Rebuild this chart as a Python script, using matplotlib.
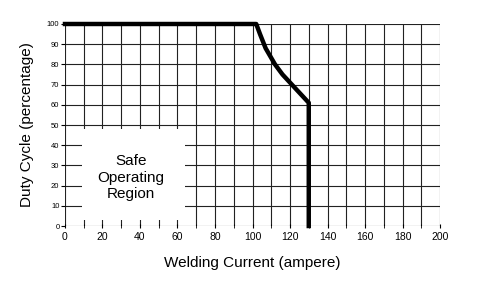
import matplotlib
matplotlib.use('Agg')
import matplotlib.pyplot as plt
from matplotlib.patches import Rectangle

# duty cycle curve
current = [0, 102, 104, 107, 112, 116, 121, 130, 130]
duty = [100, 100, 95, 88, 80, 75, 70, 61, 0]

x_ticks = list(range(0, 201, 20))
y_ticks = list(range(0, 101, 10))
x_grid = list(range(0, 201, 10))

plt.rcParams['font.family'] = ['Liberation Sans', 'DejaVu Sans']

fig = plt.figure(figsize=(4.8, 2.84), dpi=100)
ax = fig.add_axes([0.1354, 0.2042, 0.7813, 0.7113])

ax.set_xlim(0, 200)
ax.set_ylim(0, 100)

for x in x_grid:
    ax.axvline(x, color='#222222', lw=0.8, zorder=1)
for y in y_ticks:
    ax.axhline(y, color='#222222', lw=0.8, zorder=1)

# white box behind the label
ax.add_patch(Rectangle((9, 3), 55, 45, facecolor='white', edgecolor='none', zorder=2))
ax.text(35, 24, 'Safe\nOperating\nRegion', ha='center', va='center',
        fontsize=11, linespacing=1.2, zorder=3)

ax.plot(current, duty, color='black', lw=3.2, solid_joinstyle='round', zorder=4, clip_on=False)

for s in ax.spines.values():
    s.set_visible(False)

ax.set_xticks(x_ticks)
ax.set_yticks(y_ticks)
ax.tick_params(axis='x', labelsize=7.5, length=3, direction='inout', pad=3)
ax.tick_params(axis='y', labelsize=5.5, length=3, direction='out', pad=1)
ax.set_xticks(x_grid, minor=True)
ax.tick_params(axis='x', which='minor', length=3, direction='inout')

ax.set_xlabel('Welding Current (ampere)', fontsize=11, labelpad=10)
ax.set_ylabel('Duty Cycle (percentage)', fontsize=11, labelpad=9)

plt.savefig('out.png', dpi=100)
